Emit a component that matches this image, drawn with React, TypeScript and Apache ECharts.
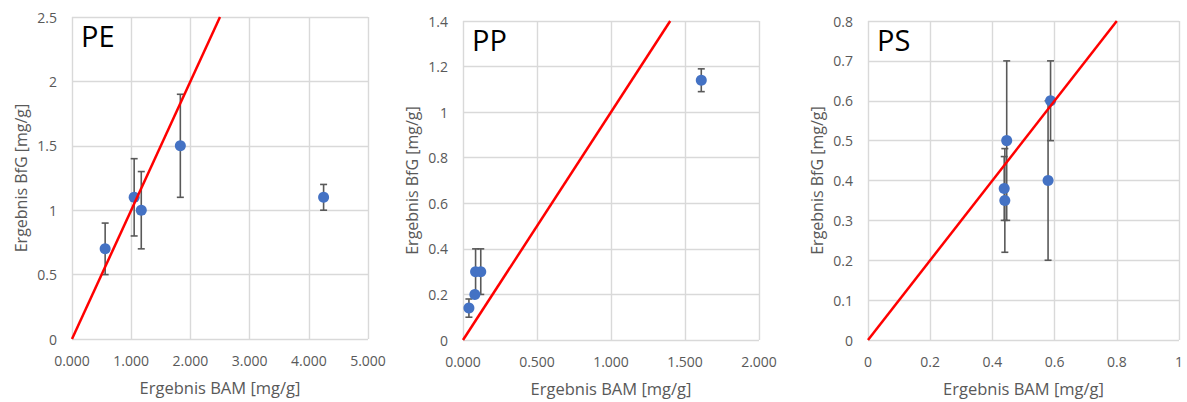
import React, { useEffect, useRef } from "react";
import * as echarts from "echarts";

// PE panel
const peX = [0.56, 1.05, 1.17, 1.83, 4.25];
const peY = [0.7, 1.1, 1.0, 1.5, 1.1];
const peErr = [0.2, 0.3, 0.3, 0.4, 0.1];
const peXTicks = { min: 0, max: 5, interval: 1 };
const peYTicks = { min: 0, max: 2.5, interval: 0.5 };
const peDiag = [0, 2.5];

// PP panel
const ppX = [0.04, 0.08, 0.085, 0.12, 1.61];
const ppY = [0.14, 0.2, 0.3, 0.3, 1.14];
const ppErr = [0.04, 0, 0.1, 0.1, 0.05];
const ppXTicks = { min: 0, max: 2, interval: 0.5 };
const ppYTicks = { min: 0, max: 1.4, interval: 0.2 };
const ppDiag = [0, 1.4];

// PS panel
const psX = [0.446, 0.438, 0.44, 0.587, 0.579];
const psY = [0.5, 0.38, 0.35, 0.6, 0.4];
const psErr = [0.2, 0.08, 0.13, 0.1, 0.2];
const psXTicks = { min: 0, max: 1, interval: 0.2 };
const psYTicks = { min: 0, max: 0.8, interval: 0.1 };
const psDiag = [0, 0.8];

const panelLabels = ["PE", "PP", "PS"];
const xAxisTitle = "Ergebnis BAM [mg/g]";
const yAxisTitle = "Ergebnis BfG [mg/g]";

const FONT = "'Open Sans', sans-serif";
const GRAY = "#595959";
const GRID = "#d9d9d9";

export default function App() {
  const ref = useRef<HTMLDivElement>(null);
  useEffect(() => {
    if (!ref.current) return;
    const chart = echarts.init(ref.current, undefined, { renderer: "svg" });

    const grids = [
      { left: 72, top: 17, width: 296, height: 322 },
      { left: 463, top: 21, width: 296, height: 321 },
      { left: 868, top: 21, width: 311, height: 321 },
    ];
    const panels = [
      { x: peX, y: peY, e: peErr, xt: peXTicks, yt: peYTicks, diag: peDiag, fmt: (v: number) => v.toFixed(3) },
      { x: ppX, y: ppY, e: ppErr, xt: ppXTicks, yt: ppYTicks, diag: ppDiag, fmt: (v: number) => v.toFixed(3) },
      { x: psX, y: psY, e: psErr, xt: psXTicks, yt: psYTicks, diag: psDiag, fmt: (v: number) => String(+v.toFixed(1)) },
    ];

    const xAxes: any[] = [];
    const yAxes: any[] = [];
    const series: any[] = [];
    const graphic: any[] = [];

    panels.forEach((p, i) => {
      xAxes.push({
        gridIndex: i,
        type: "value",
        min: p.xt.min,
        max: p.xt.max,
        interval: p.xt.interval,
        name: xAxisTitle,
        nameLocation: "middle",
        nameGap: 40,
        nameTextStyle: { color: GRAY, fontSize: 16.5, fontFamily: FONT },
        axisLine: { show: false },
        axisTick: { show: false },
        axisLabel: { color: GRAY, fontSize: 14, fontFamily: FONT, margin: 14, formatter: p.fmt },
        splitLine: { show: true, lineStyle: { color: GRID, width: 1.4 } },
      });
      yAxes.push({
        gridIndex: i,
        type: "value",
        min: p.yt.min,
        max: p.yt.max,
        interval: p.yt.interval,
        name: yAxisTitle,
        nameLocation: "middle",
        nameGap: 43,
        nameTextStyle: { color: GRAY, fontSize: 16, fontFamily: FONT },
        axisLine: { show: false },
        axisTick: { show: false },
        axisLabel: {
          color: GRAY,
          fontSize: 14,
          fontFamily: FONT,
          margin: 15,
          formatter: (v: number) => String(+v.toFixed(2)),
        },
        splitLine: { show: true, lineStyle: { color: GRID, width: 1.4 } },
      });

      const errData = p.x.map((xv, k) => [xv, p.y[k] - p.e[k], p.y[k] + p.e[k]]);
      series.push({
        type: "custom",
        xAxisIndex: i,
        yAxisIndex: i,
        encode: { x: 0, y: [1, 2] },
        data: errData,
        z: 2,
        renderItem: (params: any, api: any) => {
          const xv = api.value(0);
          const lo = api.value(1);
          const hi = api.value(2);
          if (hi - lo < 1e-9) return { type: "group", children: [] };
          const top = api.coord([xv, hi]);
          const bot = api.coord([xv, lo]);
          const cw = 3.5;
          const st = { stroke: GRAY, lineWidth: 1.6 };
          return {
            type: "group",
            children: [
              { type: "line", shape: { x1: top[0], y1: top[1], x2: bot[0], y2: bot[1] }, style: st },
              { type: "line", shape: { x1: top[0] - cw, y1: top[1], x2: top[0] + cw, y2: top[1] }, style: st },
              { type: "line", shape: { x1: bot[0] - cw, y1: bot[1], x2: bot[0] + cw, y2: bot[1] }, style: st },
            ],
          };
        },
      });
      series.push({
        type: "scatter",
        xAxisIndex: i,
        yAxisIndex: i,
        symbol: "circle",
        symbolSize: 11,
        itemStyle: { color: "#4472C4", opacity: 1 },
        data: p.x.map((xv, k) => [xv, p.y[k]]),
        z: 3,
      });
      series.push({
        type: "line",
        xAxisIndex: i,
        yAxisIndex: i,
        symbol: "none",
        lineStyle: { color: "#FF0000", width: 2.5 },
        data: p.diag.map((v) => [v, v]),
        z: 4,
      });

      graphic.push({
        type: "text",
        left: grids[i].left + 9,
        top: grids[i].top + 4,
        style: { text: panelLabels[i], fontSize: 29, fontFamily: FONT, fill: "#000" },
      });
    });

    chart.setOption({
      animation: false,
      backgroundColor: "#fff",
      grid: grids,
      xAxis: xAxes,
      yAxis: yAxes,
      series,
      graphic,
    });
    return () => chart.dispose();
  }, []);

  return (
    <div
      ref={ref}
      style={{ position: "fixed", left: 0, top: 0, width: 1187, height: 402, background: "#fff" }}
    />
  );
}
